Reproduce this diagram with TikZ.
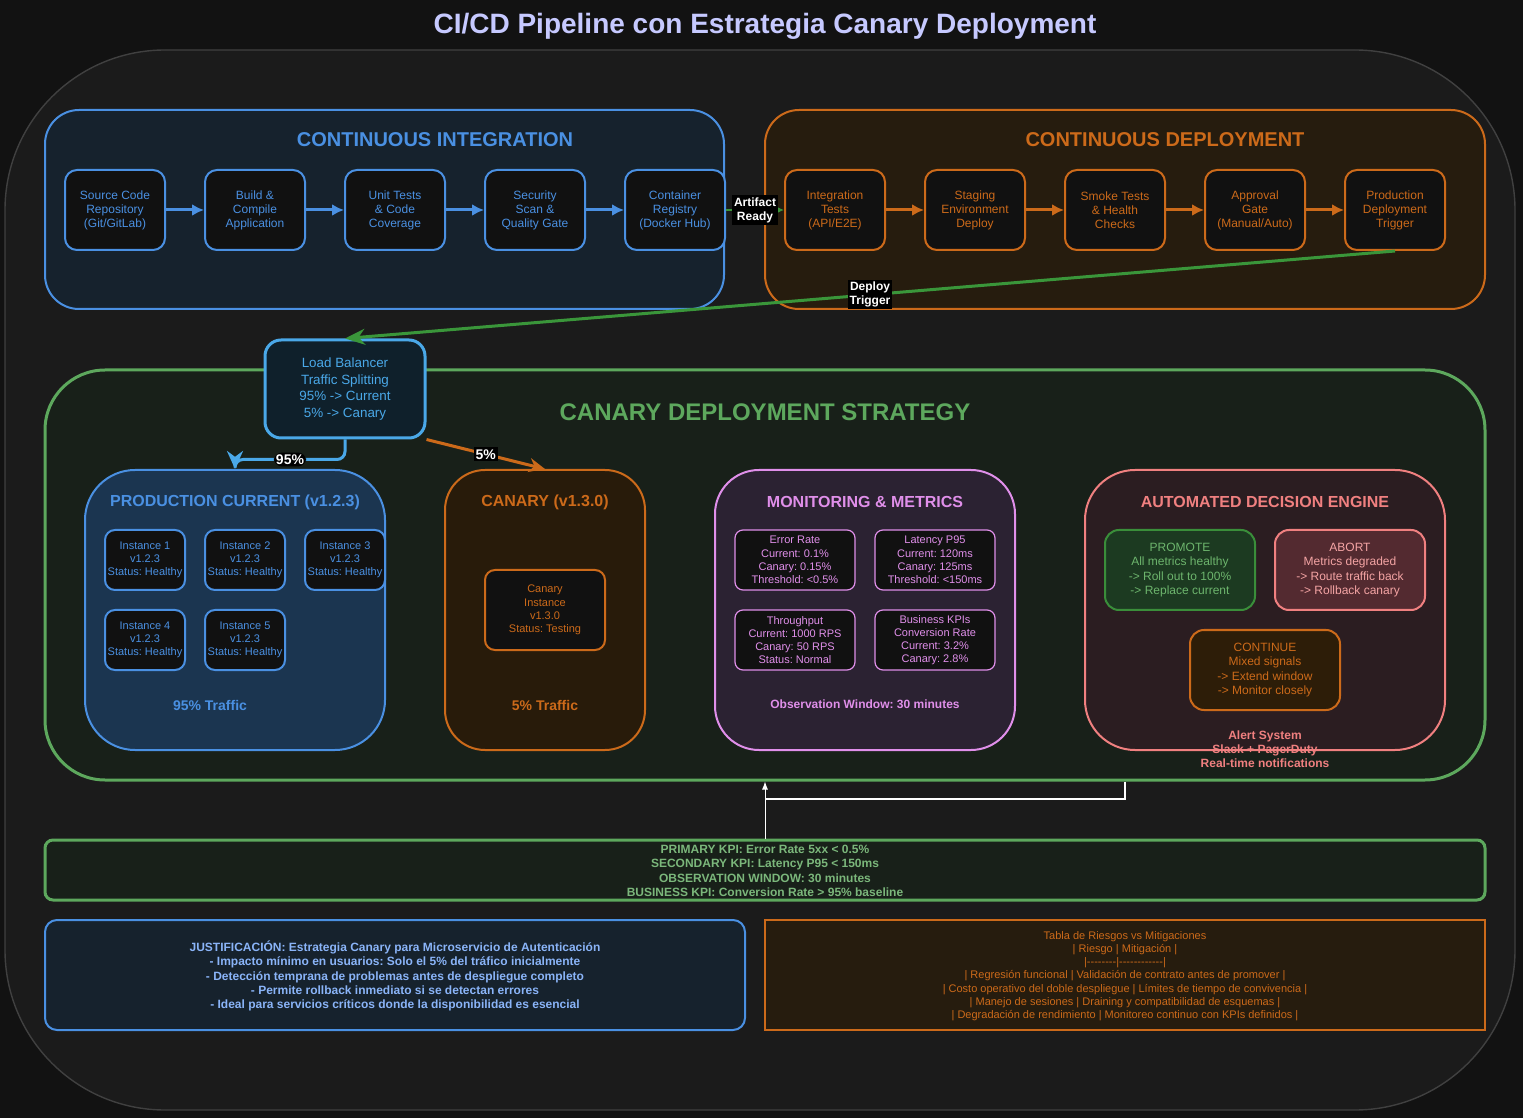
\documentclass[tikz,border=0pt]{standalone}
\usepackage{fontspec}
\setmainfont{Liberation Sans}
\usepackage{xcolor}
\usepackage{tikz}
\usetikzlibrary{arrows, arrows.meta, positioning}

\definecolor{pagebg}{HTML}{121212}
\definecolor{outerfill}{HTML}{1B1B1B}
\definecolor{outerline}{HTML}{404040}
\definecolor{boxfill}{HTML}{111111}
\definecolor{titlecol}{HTML}{C6C9FF}
\definecolor{ciblue}{HTML}{4A90E2}
\definecolor{cifill}{HTML}{16222D}
\definecolor{cdorange}{HTML}{CC6A1A}
\definecolor{cdfill}{HTML}{261C0E}
\definecolor{stratgreen}{HTML}{5DA85D}
\definecolor{stratfill}{HTML}{182019}
\definecolor{lbblue}{HTML}{4AA8E8}
\definecolor{lbfill}{HTML}{0F202B}
\definecolor{prodfill}{HTML}{1B3550}
\definecolor{canfill}{HTML}{281B0A}
\definecolor{monviolet}{HTML}{E08FEA}
\definecolor{monfill}{HTML}{2B2232}
\definecolor{decred}{HTML}{F08080}
\definecolor{decfill}{HTML}{2B1D21}
\definecolor{promgreen}{HTML}{3A8E3A}
\definecolor{promfill}{HTML}{1C3A21}
\definecolor{promtext}{HTML}{6DB56D}
\definecolor{abortfill}{HTML}{532A30}
\definecolor{aborttext}{HTML}{F4A4A4}
\definecolor{contfill}{HTML}{2D1D08}
\definecolor{trigreen}{HTML}{3A963A}
\definecolor{kpitext}{HTML}{7BB77B}
\definecolor{justtext}{HTML}{8AB4F8}

\newcommand{\stepfont}{\fontsize{6}{7}\selectfont}
\newcommand{\instfont}{\fontsize{5.5}{6.6}\selectfont}
\newcommand{\notefont}{\bfseries\fontsize{6}{7.2}\selectfont}

\begin{document}
\frenchspacing
\begin{tikzpicture}[x=0.5pt, y=-0.5pt,
	group/.style={draw, line width=1pt, inner sep=0pt},
	stepbox/.style={draw, fill=boxfill, line width=1pt, rounded corners=6pt, minimum width=50pt, minimum height=40pt, inner sep=0pt, align=center, font=\stepfont},
	instbox/.style={draw, fill=boxfill, line width=1pt, rounded corners=5pt, minimum width=40pt, minimum height=30pt, inner sep=0pt, align=center, font=\instfont},
	metricbox/.style={draw=monviolet, fill=boxfill, line width=0.6pt, rounded corners=4pt, minimum width=60pt, minimum height=30pt, inner sep=0pt, align=center, text=monviolet, font=\instfont},
	choicebox/.style={draw, line width=1pt, rounded corners=7pt, minimum width=75pt, minimum height=40pt, inner sep=0pt, align=center, font=\fontsize{6}{7.25}\selectfont},
	grouptitle/.style={font=\bfseries\fontsize{8}{9}\selectfont},
	lbl/.style={fill=black, text=white, inner sep=1pt, align=center, font=\bfseries\fontsize{6}{7}\selectfont}]

	\useasboundingbox (0,0) rectangle (1523,1118);
	\fill[pagebg] (0,0) rectangle (1523,1118);
	\draw[outerline, fill=outerfill, line width=0.7pt, rounded corners=80pt] (5,50) rectangle (1515,1110);

	\node[text=titlecol, font=\bfseries\fontsize{14}{16}\selectfont] (title) at (765,26) {CI/CD Pipeline con Estrategia Canary Deployment};

	% continuous integration
	\node[group, draw=ciblue, fill=cifill, rounded corners=17pt, minimum width=339.5pt, minimum height=99.5pt] (ci) at (384.5,209.5) {};
	\node[text=ciblue, font=\bfseries\fontsize{10}{12}\selectfont] (cititle) at (435,140) {CONTINUOUS INTEGRATION};
	\node[stepbox, draw=ciblue, text=ciblue] (src) at (115,210) {Source Code\\Repository\\(Git/GitLab)};
	\node[stepbox, draw=ciblue, text=ciblue] (build) at (255,210) {Build \&\\Compile\\Application};
	\node[stepbox, draw=ciblue, text=ciblue] (unit) at (395,210) {Unit Tests\\\& Code\\Coverage};
	\node[stepbox, draw=ciblue, text=ciblue] (scan) at (535,210) {Security\\Scan \&\\Quality Gate};
	\node[stepbox, draw=ciblue, text=ciblue] (reg) at (675,210) {Container\\Registry\\(Docker Hub)};

	% continuous deployment
	\node[group, draw=cdorange, fill=cdfill, rounded corners=17pt, minimum width=360pt, minimum height=99.5pt] (cd) at (1125,209.5) {};
	\node[text=cdorange, font=\bfseries\fontsize{10}{12}\selectfont] (cdtitle) at (1165,140) {CONTINUOUS DEPLOYMENT};
	\node[stepbox, draw=cdorange, text=cdorange] (integ) at (835,210) {Integration\\Tests\\(API/E2E)};
	\node[stepbox, draw=cdorange, text=cdorange] (stage) at (975,210) {Staging\\Environment\\Deploy};
	\node[stepbox, draw=cdorange, text=cdorange] (smoke) at (1115,210) {Smoke Tests\\\& Health\\Checks};
	\node[stepbox, draw=cdorange, text=cdorange] (approve) at (1255,210) {Approval\\Gate\\(Manual/Auto)};
	\node[stepbox, draw=cdorange, text=cdorange] (prodtrig) at (1395,210) {Production\\Deployment\\Trigger};

	\path[ciblue, line width=1.5pt, -{Latex[length=6pt, width=6pt]}] (src) edge (build) (build) edge (unit) (unit) edge (scan) (scan) edge (reg);
	\path[cdorange, line width=1.5pt, -{Latex[length=6pt, width=6pt]}] (integ) edge (stage) (stage) edge (smoke) (smoke) edge (approve) (approve) edge (prodtrig);

	% canary strategy
	\node[group, draw=stratgreen, fill=stratfill, line width=1.5pt, rounded corners=30pt, minimum width=720pt, minimum height=205pt] (strat) at (765,575) {};
	\node[text=stratgreen, font=\bfseries\fontsize{12}{14}\selectfont] (strattitle) at (765,412) {CANARY DEPLOYMENT STRATEGY};

	\node[draw=lbblue, fill=lbfill, line width=1.5pt, rounded corners=8pt, minimum width=80pt, minimum height=49pt, inner sep=0pt, align=center, text=lbblue, font=\fontsize{6.7}{8.4}\selectfont] (lb) at (345,389) {Load Balancer\\Traffic Splitting\\95\% -> Current\\5\% -> Canary};

	\node[group, draw=ciblue, fill=prodfill, rounded corners=25pt, minimum width=150pt, minimum height=140pt] (prod) at (235,610) {};
	\node[grouptitle, text=ciblue] (prodtitle) at (235,502) {PRODUCTION CURRENT (v1.2.3)};
	\node[instbox, draw=ciblue, text=ciblue] (inst1) at (145,560) {Instance 1\\v1.2.3\\Status: Healthy};
	\node[instbox, draw=ciblue, text=ciblue] (inst2) at (245,560) {Instance 2\\v1.2.3\\Status: Healthy};
	\node[instbox, draw=ciblue, text=ciblue] (inst3) at (345,560) {Instance 3\\v1.2.3\\Status: Healthy};
	\node[instbox, draw=ciblue, text=ciblue] (inst4) at (145,640) {Instance 4\\v1.2.3\\Status: Healthy};
	\node[instbox, draw=ciblue, text=ciblue] (inst5) at (245,640) {Instance 5\\v1.2.3\\Status: Healthy};
	\node[text=ciblue, font=\bfseries\fontsize{7}{8}\selectfont] (prodtraffic) at (210,705) {95\% Traffic};

	\node[group, draw=cdorange, fill=canfill, rounded corners=20pt, minimum width=100pt, minimum height=140pt] (canary) at (545,610) {};
	\node[grouptitle, text=cdorange] (canarytitle) at (545,502) {CANARY (v1.3.0)};
	\node[instbox, draw=cdorange, text=cdorange, minimum width=60pt, minimum height=40pt] (caninst) at (545,610) {Canary\\Instance\\v1.3.0\\Status: Testing};
	\node[text=cdorange, font=\bfseries\fontsize{7}{8}\selectfont] (cantraffic) at (545,705) {5\% Traffic};

	\node[group, draw=monviolet, fill=monfill, rounded corners=22pt, minimum width=150pt, minimum height=140pt] (mon) at (865,610) {};
	\node[grouptitle, text=monviolet] (montitle) at (865,502) {MONITORING \& METRICS};
	\node[metricbox] (errrate) at (795,560) {Error Rate\\Current: 0.1\%\\Canary: 0.15\%\\Threshold: <0.5\%};
	\node[metricbox] (latency) at (935,560) {Latency P95\\Current: 120ms\\Canary: 125ms\\Threshold: <150ms};
	\node[metricbox] (thru) at (795,640) {Throughput\\Current: 1000 RPS\\Canary: 50 RPS\\Status: Normal};
	\node[metricbox] (bizkpi) at (935,640) {Business KPIs\\Conversion Rate\\Current: 3.2\%\\Canary: 2.8\%};
	\node[text=monviolet, font=\notefont] (obswin) at (865,704) {Observation Window: 30 minutes};

	\node[group, draw=decred, fill=decfill, rounded corners=25pt, minimum width=180pt, minimum height=140pt] (dec) at (1265,610) {};
	\node[grouptitle, text=decred] (dectitle) at (1265,502) {AUTOMATED DECISION ENGINE};
	\node[choicebox, draw=promgreen, fill=promfill, text=promtext] (promote) at (1180,570) {PROMOTE\\All metrics healthy\\-> Roll out to 100\%\\-> Replace current};
	\node[choicebox, draw=decred, fill=abortfill, text=aborttext] (abort) at (1350,570) {ABORT\\Metrics degraded\\-> Route traffic back\\-> Rollback canary};
	\node[choicebox, draw=cdorange, fill=contfill, text=cdorange] (cont) at (1265,670) {CONTINUE\\Mixed signals\\-> Extend window\\-> Monitor closely};
	\node[text=decred, align=center, font=\bfseries\fontsize{6}{7.1}\selectfont] (alert) at (1265,749) {Alert System\\Slack + PagerDuty\\Real-time notifications};

	% traffic split
	\draw[lbblue, line width=1.5pt, rounded corners=4pt, -{Stealth[length=9pt, width=8pt]}] (lb.south) -- ++(0,20) -| node[lbl, pos=0.25, font=\bfseries\fontsize{7}{8}\selectfont] {95\%} (prod.north);
	\draw[cdorange, line width=1.5pt, -{Stealth[length=8pt, width=7pt]}] (lb.south east) -- node[lbl, font=\bfseries\fontsize{7}{8}\selectfont] {5\%} (canary.north);

	% hand-offs
	\draw[trigreen, line width=1pt, -{Latex[length=4pt, width=4pt]}] (reg) -- node[lbl] {Artifact\\Ready} (integ);
	\draw[trigreen, line width=1.5pt, -{Stealth[length=10pt, width=8pt]}] (prodtrig.south) -- node[lbl] {Deploy\\Trigger} (lb.north);

	% kpis and notes
	\node[group, draw=stratgreen, fill=stratfill, line width=1.5pt, rounded corners=4pt, minimum width=720pt, minimum height=30pt] (kpi) at (765,870) {};
	\node[text=kpitext, align=center, font=\bfseries\fontsize{6}{7.25}\selectfont] (kpitxt) at (765,871) {PRIMARY KPI: Error Rate 5xx < 0.5\%\\SECONDARY KPI: Latency P95 < 150ms\\OBSERVATION WINDOW: 30 minutes\\BUSINESS KPI: Conversion Rate > 95\% baseline};

	\node[group, draw=ciblue, fill=cifill, rounded corners=6pt, minimum width=350pt, minimum height=55pt] (just) at (395,975) {};
	\node[text=justtext, align=center, font=\bfseries\fontsize{6}{7.15}\selectfont] (justtxt) at (395,976) {JUSTIFICACIÓN: Estrategia Canary para Microservicio de Autenticación\\- Impacto mínimo en usuarios: Solo el 5\% del tráfico inicialmente\\- Detección temprana de problemas antes de despliegue completo\\- Permite rollback inmediato si se detectan errores\\- Ideal para servicios críticos donde la disponibilidad es esencial};

	\node[group, draw=cdorange, fill=cdfill, minimum width=360pt, minimum height=55pt] (risk) at (1125,975) {};
	\node[text=cdorange, align=center, font=\fontsize{5.5}{6.6}\selectfont] (risktxt) at (1125,976) {Tabla de Riesgos vs Mitigaciones\\| Riesgo | Mitigación |\\|{-}{-}{-}{-}{-}{-}{-}{-}|{-}{-}{-}{-}{-}{-}{-}{-}{-}{-}{-}{-}|\\| Regresión funcional | Validación de contrato antes de promover |\\| Costo operativo del doble despliegue | Límites de tiempo de convivencia |\\| Manejo de sesiones | Draining y compatibilidad de esquemas |\\| Degradación de rendimiento | Monitoreo continuo con KPIs definidos |};

	% feedback
	\coordinate (fbtop) at (strat.south -| risk.north);
	\coordinate (fbjoin) at (765,799);
	\draw[white, line width=0.5pt, -{Latex[length=4pt, width=3pt]}] (kpi.north) -- (strat.south);
	\draw[white, line width=0.7pt] (fbtop) |- (fbjoin);

\end{tikzpicture}
\end{document}
